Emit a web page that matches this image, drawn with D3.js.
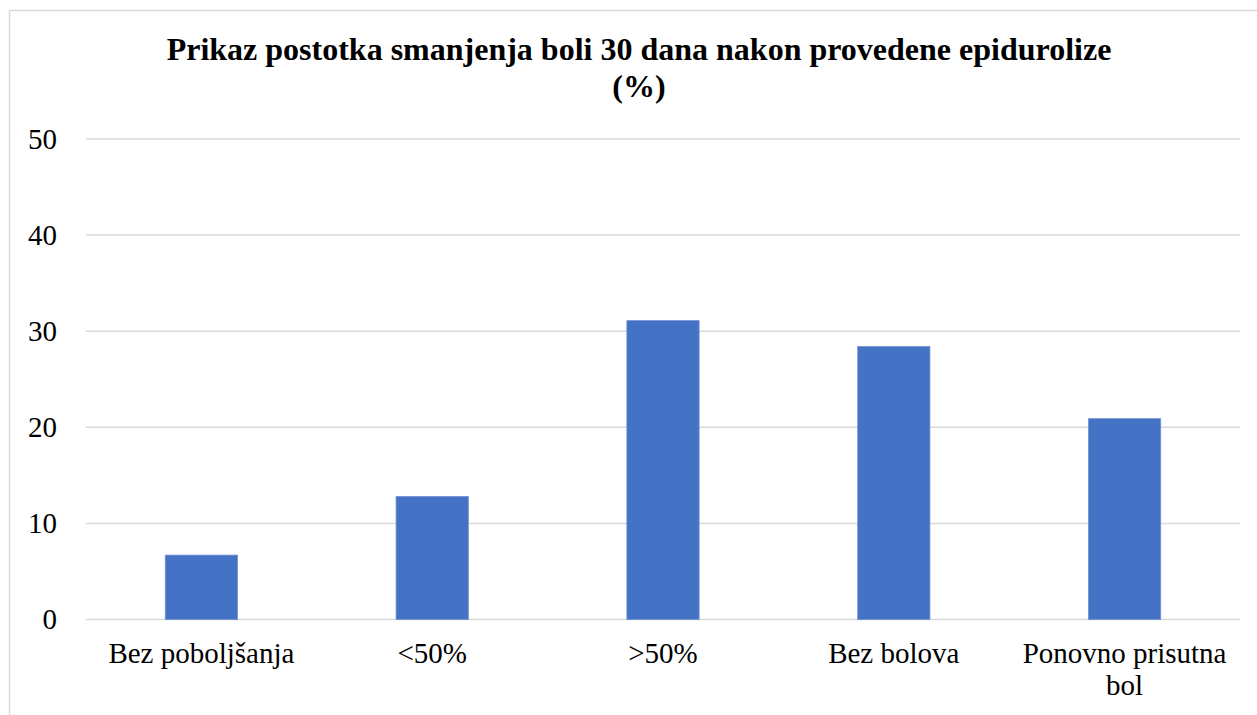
<!DOCTYPE html>
<html>
<head>
<meta charset="utf-8">
<script src="https://cdn.jsdelivr.net/npm/d3@7"></script>
<style>
  body { margin: 0; background: #fff; }
  svg text { font-family: "Liberation Serif", "Times New Roman", serif; fill: #000; }
</style>
</head>
<body>
<svg id="chart" width="1257" height="715"></svg>
<script>
// data
var categories = ["Bez poboljšanja", "<50%", ">50%", "Bez bolova", "Ponovno prisutna bol"];
var values = [6.7, 12.8, 31.1, 28.4, 20.9];
var yTicks = [0, 10, 20, 30, 40, 50];
var titleLines = ["Prikaz postotka smanjenja boli 30 dana nakon provedene epidurolize", "(%)"];

var svg = d3.select("#chart");
var W = 1257, H = 715;
var plotL = 86, plotR = 1240, plotT = 139, plotB = 619.5;
var serif = "Liberation Serif, Times New Roman, serif";

// outer frame
svg.append("rect")
  .attr("x", 9.5).attr("y", 10.5)
  .attr("width", W + 20).attr("height", H + 20)
  .attr("fill", "none").attr("stroke", "#d9d9d9").attr("stroke-width", 1.5);

var x = d3.scaleBand().domain(categories).range([plotL, plotR]).paddingInner(0.687).paddingOuter(0.3435);
var y = d3.scaleLinear().domain([0, 50]).range([plotB, plotT]);

// gridlines
svg.append("g").selectAll("line").data(yTicks).enter().append("line")
  .attr("x1", plotL).attr("x2", plotR)
  .attr("y1", function (d) { return y(d); }).attr("y2", function (d) { return y(d); })
  .attr("stroke", "#d9d9d9").attr("stroke-width", 1.5);

// y labels
var yAxis = d3.axisLeft(y).tickValues(yTicks).tickSize(0).tickPadding(0);
var gy = svg.append("g").attr("transform", "translate(57,0)").call(yAxis);
gy.select(".domain").remove();
gy.selectAll("text").attr("font-size", "29px").attr("font-family", serif).attr("fill", "#000");

// bars
svg.append("g").selectAll("rect").data(values).enter().append("rect")
  .attr("x", function (d, i) { return x(categories[i]); })
  .attr("y", function (d) { return y(d); })
  .attr("width", x.bandwidth())
  .attr("height", function (d) { return y(0) - y(d); })
  .attr("fill", "#4472c4")
  .attr("stroke", "#6f91d0").attr("stroke-width", 0.8);

// category labels (wrap long one)
var step = x.step();
var labels = svg.append("g").selectAll("text").data(categories).enter().append("text")
  .attr("text-anchor", "middle")
  .attr("font-size", "29px").attr("font-family", serif)
  .attr("x", function (d) { return x(d) + x.bandwidth() / 2; })
  .attr("y", 663);
labels.each(function (d) {
  var t = d3.select(this);
  var words = d.split(" ");
  var lines = [], cur = "";
  var probe = t.append("tspan");
  words.forEach(function (w) {
    var test = cur ? cur + " " + w : w;
    probe.text(test);
    if (probe.node().getComputedTextLength() > step - 10 && cur) {
      lines.push(cur); cur = w;
    } else cur = test;
  });
  lines.push(cur);
  probe.remove();
  lines.forEach(function (l, i) {
    t.append("tspan").attr("x", t.attr("x")).attr("dy", i ? 32 : 0).text(l);
  });
});

// title
svg.append("text")
  .attr("text-anchor", "middle")
  .attr("font-size", "32px").attr("font-weight", "bold").attr("font-family", serif)
  .attr("x", 639).attr("y", 60)
  .selectAll("tspan").data(titleLines).enter().append("tspan")
  .attr("x", 639).attr("dy", function (d, i) { return i ? 37 : 0; })
  .text(function (d) { return d; });
</script>
</body>
</html>
